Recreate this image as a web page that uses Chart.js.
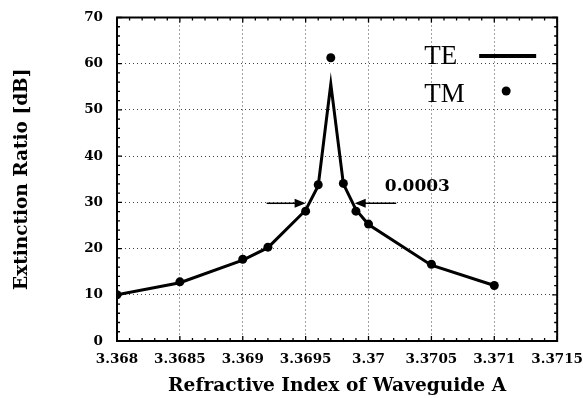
<!DOCTYPE html>
<html>
<head>
<meta charset="utf-8">
<script src="https://cdn.jsdelivr.net/npm/chart.js@4.4.0/dist/chart.umd.min.js"></script>
<style>
  html, body { margin: 0; padding: 0; background: #fff; }
  canvas { display: block; }
</style>
</head>
<body>
<canvas id="chart" width="583" height="398"></canvas>
<script>
// refractive index samples (x) and extinction ratio in dB (y)
const indexTE = [3.368, 3.3685, 3.369, 3.3692, 3.3695, 3.3696, 3.3697, 3.3698, 3.3699, 3.37, 3.3705, 3.371];
const ratioTE = [10.0, 12.6, 17.5, 20.2, 28.3, 33.6, 55.6, 34.0, 28.4, 25.2, 16.4, 12.0];
const indexTM = [3.368, 3.3685, 3.369, 3.3692, 3.3695, 3.3696, 3.3697, 3.3698, 3.3699, 3.37, 3.3705, 3.371];
const ratioTM = [10.0, 12.8, 17.7, 20.3, 28.1, 33.8, 61.3, 34.1, 28.1, 25.3, 16.6, 12.0];

const xTicks = [3.368, 3.3685, 3.369, 3.3695, 3.37, 3.3705, 3.371, 3.3715];
const xTickLabels = ['3.368', '3.3685', '3.369', '3.3695', '3.37', '3.3705', '3.371', '3.3715'];
const yTicks = [0, 10, 20, 30, 40, 50, 60, 70];
const yTickLabels = ['0', '10', '20', '30', '40', '50', '60', '70'];

// width marker drawn around the 30 dB level
const widthText = '0.0003';
const widthTextAt = [3.37013, 33.5];
const arrowLevel = 29.8;
const leftArrow = [3.36919, 3.3695];   // tail, tip
const rightArrow = [3.37022, 3.36989]; // tail, tip

const serif = "'DejaVu Serif', serif";

function toPoints(xs, ys) {
    return xs.map((x, i) => ({ x: x, y: ys[i] }));
}

// frame, inward ticks, the width marker and the legend
const decorations = {
    id: 'decorations',
    afterDraw(chart) {
        const ctx = chart.ctx;
        const area = chart.chartArea;
        const xs = chart.scales.x;
        const ys = chart.scales.y;
        ctx.save();
        ctx.strokeStyle = '#000';
        ctx.fillStyle = '#000';

        // minor + major ticks on all four sides
        ctx.lineWidth = 1.3;
        ctx.beginPath();
        for (let i = 0; i <= 35; i++) {
            const v = xTicks[0] + i * 0.0001;
            const px = xs.getPixelForValue(v);
            const len = i % 5 === 0 ? 5 : 3;
            ctx.moveTo(px, area.bottom); ctx.lineTo(px, area.bottom - len);
            ctx.moveTo(px, area.top); ctx.lineTo(px, area.top + len);
        }
        for (let v = 0; v <= 70; v += 2) {
            const py = ys.getPixelForValue(v);
            const len = v % 10 === 0 ? 5 : 3;
            ctx.moveTo(area.left, py); ctx.lineTo(area.left + len, py);
            ctx.moveTo(area.right, py); ctx.lineTo(area.right - len, py);
        }
        ctx.stroke();

        ctx.lineWidth = 2;
        ctx.strokeRect(area.left, area.top, area.right - area.left, area.bottom - area.top);

        // arrows
        const ay = ys.getPixelForValue(arrowLevel);
        [leftArrow, rightArrow].forEach(a => {
            const tail = xs.getPixelForValue(a[0]);
            const tip = xs.getPixelForValue(a[1]);
            const dir = tip > tail ? 1 : -1;
            ctx.lineWidth = 1.5;
            ctx.beginPath();
            ctx.moveTo(tail, ay);
            ctx.lineTo(tip - dir * 8, ay);
            ctx.stroke();
            ctx.beginPath();
            ctx.moveTo(tip, ay);
            ctx.lineTo(tip - dir * 11, ay - 4.5);
            ctx.lineTo(tip - dir * 11, ay + 4.5);
            ctx.closePath();
            ctx.fill();
        });

        ctx.font = 'bold 17px ' + serif;
        ctx.textAlign = 'left';
        ctx.textBaseline = 'middle';
        ctx.fillText(widthText, xs.getPixelForValue(widthTextAt[0]), ys.getPixelForValue(widthTextAt[1]));

        // legend: label text then symbol
        const sets = chart.data.datasets;
        ctx.font = "27px 'Liberation Serif', serif";
        ctx.textBaseline = 'alphabetic';
        const lx = area.right - 133;
        ctx.fillText(sets[0].label, lx, area.top + 46);
        ctx.fillText(sets[1].label, lx, area.top + 84);
        ctx.lineWidth = 4;
        ctx.beginPath();
        ctx.moveTo(area.right - 78, area.top + 38.5);
        ctx.lineTo(area.right - 21, area.top + 38.5);
        ctx.stroke();
        ctx.beginPath();
        ctx.arc(area.right - 51, area.top + 73.5, 4.5, 0, Math.PI * 2);
        ctx.fill();
        ctx.restore();
    }
};

const ctx = document.getElementById('chart').getContext('2d');
new Chart(ctx, {
    type: 'scatter',
    data: {
        datasets: [{
            label: 'TE',
            data: toPoints(indexTE, ratioTE),
            showLine: true,
            borderColor: '#000',
            borderWidth: 3,
            pointRadius: 0,
            tension: 0
        }, {
            label: 'TM',
            data: toPoints(indexTM, ratioTM),
            showLine: false,
            pointRadius: 4.5,
            pointBackgroundColor: '#000',
            pointBorderWidth: 0
        }]
    },
    options: {
        responsive: false,
        animation: false,
        devicePixelRatio: 1,
        layout: { padding: { top: 17.5, right: 25, left: 0, bottom: 0 } },
        plugins: { legend: { display: false }, tooltip: { enabled: false } },
        scales: {
            x: {
                type: 'linear',
                min: xTicks[0],
                max: xTicks[xTicks.length - 1],
                afterBuildTicks: scale => { scale.ticks = xTicks.map(v => ({ value: v })); },
                afterFit: scale => { scale.height = 57; },
                ticks: {
                    callback: (v, i) => xTickLabels[i],
                    color: '#000',
                    padding: 0,
                    maxRotation: 0,
                    autoSkip: false,
                    font: { family: serif, size: 13.5, weight: 'bold' }
                },
                grid: { color: '#444', lineWidth: 1, drawTicks: true, tickLength: 10, tickColor: 'rgba(0,0,0,0)' },
                border: { display: false, dash: [1, 3] },
                title: {
                    display: true,
                    text: 'Refractive Index of Waveguide A',
                    color: '#000',
                    font: { family: serif, size: 18.6, weight: 'bold' },
                    padding: { top: 0, bottom: 1 }
                }
            },
            y: {
                min: yTicks[0],
                max: yTicks[yTicks.length - 1],
                afterBuildTicks: scale => { scale.ticks = yTicks.map(v => ({ value: v })); },
                afterFit: scale => { scale.width = 117; },
                ticks: {
                    callback: (v, i) => yTickLabels[i],
                    color: '#000',
                    padding: 0,
                    font: { family: serif, size: 13.5, weight: 'bold' }
                },
                grid: { color: '#444', lineWidth: 1, drawTicks: true, tickLength: 14, tickColor: 'rgba(0,0,0,0)' },
                border: { display: false, dash: [1, 3] },
                title: {
                    display: true,
                    text: 'Extinction Ratio [dB]',
                    color: '#000',
                    font: { family: serif, size: 18.5, weight: 'bold' },
                    padding: { top: 11, bottom: 0 }
                }
            }
        }
    },
    plugins: [decorations]
});
</script>
</body>
</html>
